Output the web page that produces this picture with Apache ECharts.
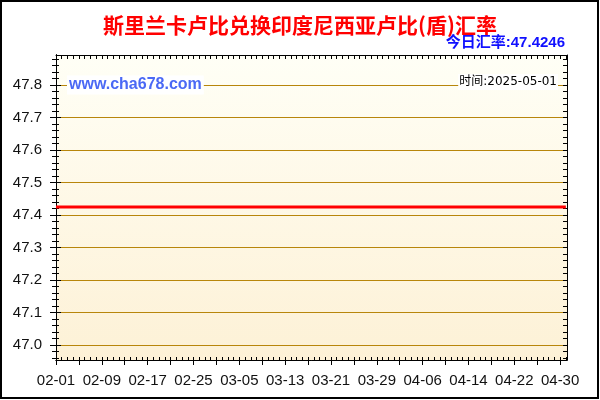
<!DOCTYPE html>
<html>
<head>
<meta charset="utf-8">
<script src="https://cdn.jsdelivr.net/npm/echarts@6/dist/echarts.min.js"></script>
<style>
html, body { margin: 0; padding: 0; background: #fff; }
#main { width: 600px; height: 400px; }
</style>
</head>
<body>
<div id="main"></div>
<script>
// 数据
var titleText = '斯里兰卡卢比兑换印度尼西亚卢比(盾)汇率';
var latestRate = '47.4246';
var updateDate = '2025-05-01';
var tickLabels = ['02-01', '02-09', '02-17', '02-25', '03-05', '03-13', '03-21', '03-29', '04-06', '04-14', '04-22', '04-30'];
var yLabels = [47.0, 47.1, 47.2, 47.3, 47.4, 47.5, 47.6, 47.7, 47.8];
// 02-01 .. 05-01 每日汇率
var rateValues = [
    47.4246, 47.4246, 47.4246, 47.4246, 47.4246, 47.4246, 47.4246, 47.4246, 47.4246, 47.4246,
    47.4246, 47.4246, 47.4246, 47.4246, 47.4246, 47.4246, 47.4246, 47.4246, 47.4246, 47.4246,
    47.4246, 47.4246, 47.4246, 47.4246, 47.4246, 47.4246, 47.4246, 47.4246, 47.4246, 47.4246,
    47.4246, 47.4246, 47.4246, 47.4246, 47.4246, 47.4246, 47.4246, 47.4246, 47.4246, 47.4246,
    47.4246, 47.4246, 47.4246, 47.4246, 47.4246, 47.4246, 47.4246, 47.4246, 47.4246, 47.4246,
    47.4246, 47.4246, 47.4246, 47.4246, 47.4246, 47.4246, 47.4246, 47.4246, 47.4246, 47.4246,
    47.4246, 47.4246, 47.4246, 47.4246, 47.4246, 47.4246, 47.4246, 47.4246, 47.4246, 47.4246,
    47.4246, 47.4246, 47.4246, 47.4246, 47.4246, 47.4246, 47.4246, 47.4246, 47.4246, 47.4246,
    47.4246, 47.4246, 47.4246, 47.4246, 47.4246, 47.4246, 47.4246, 47.4246, 47.4246, 47.4246
];

var yMin = 46.954, yMax = 47.892;
var xMin = 0, xMax = 89.2;

var chart = echarts.init(document.getElementById('main'));

// 刻度位置
var majorX = [], minorX = [];
for (var d = 0; d <= 89; d++) {
    minorX.push(d);
    if (d % 4 === 0 && d <= 88) majorX.push(d);
}
var labelX = tickLabels.map(function (t, i) { return i * 8; });
var minorY = [];
for (var k = 0; k <= 46; k++) {
    minorY.push(+(46.96 + k * 0.02).toFixed(2));
}

var axisFont = '"Liberation Sans", Arial, sans-serif';

function yAx(o) {
    return Object.assign({
        type: 'value', min: yMin, max: yMax, position: 'left',
        axisLine: { show: true, lineStyle: { color: '#000', width: 1 } },
        axisLabel: { show: false },
        splitLine: { show: false },
        axisTick: { show: false }
    }, o);
}
function xAx(o) {
    return Object.assign({
        type: 'value', min: xMin, max: xMax, position: 'bottom',
        axisLine: { show: true, onZero: false, lineStyle: { color: '#000', width: 1 } },
        axisLabel: { show: false },
        splitLine: { show: false },
        axisTick: { show: false }
    }, o);
}

option = {
    animation: false,
    title: {
        text: titleText,
        left: 'center',
        top: 10,
        textStyle: { color: '#FF0000', fontSize: 21, fontWeight: 'bold', fontFamily: '"Noto Sans CJK SC", sans-serif' }
    },
    grid: {
        left: 56, right: 33, top: 55, bottom: 40,
        show: true,
        borderWidth: 0,
        outerBoundsMode: 'none',
        backgroundColor: new echarts.graphic.LinearGradient(0, 0, 0, 1, [
            { offset: 0, color: '#FFFFF6' },
            { offset: 1, color: '#FDF1D6' }
        ])
    },
    xAxis: [
        xAx({
            axisLabel: {
                show: true, customValues: labelX, margin: 13,
                fontSize: 15, color: '#111', fontFamily: axisFont,
                formatter: function (v) { return tickLabels[Math.round(v / 8)]; }
            },
            axisTick: { show: true, customValues: majorX, length: 5, lineStyle: { color: '#000' } }
        }),
        xAx({ axisTick: { show: true, inside: true, customValues: minorX, length: 3, lineStyle: { color: '#000' } } }),
        xAx({ position: 'top', axisTick: { show: true, inside: true, customValues: minorX, length: 4, lineStyle: { color: '#000' } } })
    ],
    yAxis: [
        yAx({
            splitNumber: 9,
            axisLabel: {
                show: true, customValues: yLabels, margin: 14,
                fontSize: 15, color: '#111', fontFamily: axisFont,
                formatter: function (v) { return v.toFixed(1); }
            },
            axisTick: { show: true, customValues: yLabels, length: 6, lineStyle: { color: '#000' } },
            splitLine: { show: true, lineStyle: { color: '#B8860B', width: 1 } }
        }),
        yAx({ axisTick: { show: true, customValues: minorY, length: 4, lineStyle: { color: '#000' } } }),
        yAx({ axisTick: { show: true, inside: true, customValues: minorY, length: 3, lineStyle: { color: '#000' } } }),
        yAx({ axisTick: { show: true, inside: true, customValues: yLabels, length: 5, lineStyle: { color: '#000' } } }),
        yAx({ position: 'right', axisTick: { show: true, inside: true, customValues: minorY, length: 4, lineStyle: { color: '#000' } } })
    ],
    series: [
        {
            type: 'line',
            xAxisIndex: 0,
            yAxisIndex: 0,
            data: rateValues.map(function (v, i) { return [i, v]; }),
            showSymbol: false,
            symbol: 'none',
            silent: true,
            lineStyle: { color: '#FF0000', width: 3 },
            z: 5
        }
    ],
    graphic: [
        {
            type: 'text', x: 565, y: 43, z: 100,
            style: {
                text: '今日汇率:' + latestRate,
                align: 'right', verticalAlign: 'middle',
                font: 'bold 15px "Liberation Sans", "Noto Sans CJK SC", sans-serif',
                fill: '#1010FF'
            }
        },
        {
            type: 'text', x: 67, y: 85, z: 100,
            style: {
                text: 'www.cha678.com',
                align: 'left', verticalAlign: 'middle',
                font: 'bold 16px "Liberation Sans", Arial, sans-serif',
                fill: '#4B69F5',
                backgroundColor: '#FFFFFF',
                padding: [2, 2, 1, 2]
            }
        },
        {
            type: 'text', x: 558, y: 82, z: 100,
            style: {
                text: '时间:' + updateDate,
                align: 'right', verticalAlign: 'middle',
                font: '12px "DejaVu Sans", "Noto Sans CJK SC", sans-serif',
                fill: '#000',
                backgroundColor: '#FFFFFF',
                padding: [2, 1, 2, 1]
            }
        },
        {
            type: 'rect', z: 200,
            shape: { x: 1, y: 1, width: 597, height: 397 },
            style: { fill: null, stroke: '#000', lineWidth: 2 }
        }
    ]
};

option && chart.setOption(option);
</script>
</body>
</html>
